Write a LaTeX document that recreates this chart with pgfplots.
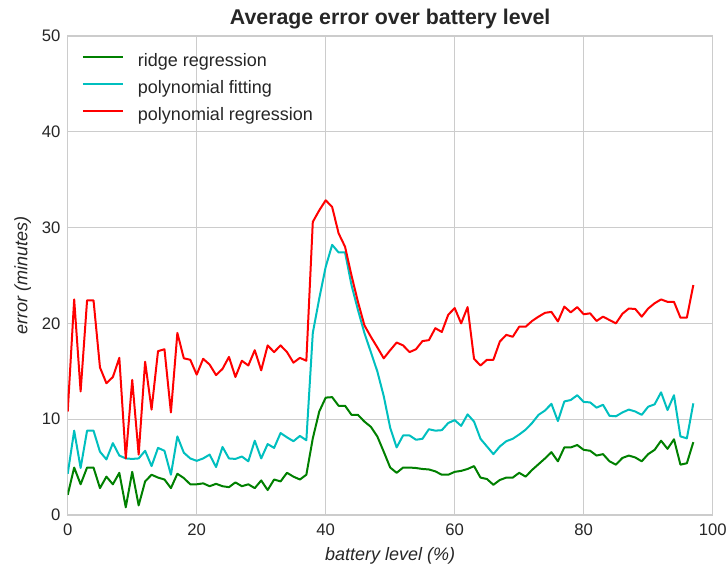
\documentclass[border=0pt]{standalone}
\usepackage{fontspec}
\setmainfont{Liberation Sans}
\usepackage{pgfplots}
\pgfplotsset{compat=1.18}
\definecolor{gridc}{HTML}{CCCCCC}
\definecolor{txt}{HTML}{262626}
\definecolor{cyanc}{HTML}{00BFBF}
\definecolor{greenc}{HTML}{008000}
\definecolor{redc}{HTML}{FF0000}

\pgfplotstableread{
x y
0 2.1
1 4.95
2 3.2
3 4.95
4 4.95
5 2.8
6 4.0
7 3.2
8 4.4
9 0.8
10 4.5
11 1.0
12 3.5
13 4.2
14 3.9
15 3.7
16 2.8
17 4.3
18 3.85
19 3.2
20 3.2
21 3.3
22 3.0
23 3.25
24 3.0
25 2.9
26 3.4
27 3.0
28 3.2
29 2.8
30 3.6
31 2.6
32 3.7
33 3.5
34 4.4
35 4.0
36 3.7
37 4.2
38 8.0
39 10.8
40 12.25
41 12.3
42 11.4
43 11.4
44 10.45
45 10.45
46 9.75
47 9.2
48 8.2
49 6.6
50 4.95
51 4.4
52 4.95
53 4.95
54 4.9
55 4.8
56 4.75
57 4.55
58 4.2
59 4.2
60 4.5
61 4.6
62 4.8
63 5.1
64 3.9
65 3.75
66 3.15
67 3.65
68 3.9
69 3.9
70 4.4
71 4.0
72 4.7
73 5.3
74 5.9
75 6.55
76 5.6
77 7.05
78 7.05
79 7.3
80 6.8
81 6.7
82 6.2
83 6.35
84 5.6
85 5.25
86 5.95
87 6.2
88 6.0
89 5.6
90 6.35
91 6.8
92 7.75
93 6.9
94 7.9
95 5.25
96 5.4
97 7.6
}\ridge

\pgfplotstableread{
x y
0 4.3
1 8.8
2 4.9
3 8.8
4 8.8
5 6.6
6 5.8
7 7.5
8 6.2
9 5.9
10 5.85
11 5.9
12 6.7
13 5.1
14 7.0
15 6.7
16 4.2
17 8.2
18 6.5
19 5.9
20 5.65
21 5.9
22 6.3
23 5.0
24 7.1
25 5.9
26 5.85
27 6.1
28 5.6
29 7.75
30 5.9
31 7.4
32 7.0
33 8.55
34 8.1
35 7.7
36 8.25
37 7.8
38 19.0
39 22.6
40 25.9
41 28.2
42 27.4
43 27.4
44 24.0
45 21.4
46 19.0
47 17.0
48 15.0
49 12.4
50 9.1
51 7.05
52 8.3
53 8.3
54 7.85
55 7.95
56 8.95
57 8.8
58 8.85
59 9.6
60 9.9
61 9.3
62 10.5
63 9.75
64 7.95
65 7.15
66 6.35
67 7.15
68 7.7
69 7.95
70 8.4
71 8.9
72 9.6
73 10.45
74 10.9
75 11.6
76 9.8
77 11.85
78 12.0
79 12.5
80 11.8
81 11.75
82 11.2
83 11.5
84 10.35
85 10.3
86 10.7
87 11.0
88 10.8
89 10.45
90 11.3
91 11.55
92 12.8
93 10.95
94 12.5
95 8.2
96 8.0
97 11.65
}\polyfit

\pgfplotstableread{
x y
0 10.8
1 22.5
2 12.9
3 22.4
4 22.4
5 15.4
6 13.75
7 14.4
8 16.4
9 5.9
10 14.1
11 6.3
12 16.0
13 11.0
14 17.1
15 17.3
16 10.7
17 19.0
18 16.35
19 16.2
20 14.65
21 16.3
22 15.7
23 14.6
24 15.25
25 16.5
26 14.4
27 16.1
28 15.6
29 17.2
30 15.1
31 17.7
32 17.0
33 17.7
34 17.0
35 15.9
36 16.4
37 16.1
38 30.6
39 31.8
40 32.85
41 32.15
42 29.4
43 28.0
44 25.0
45 22.25
46 19.8
47 18.6
48 17.5
49 16.35
50 17.2
51 18.0
52 17.7
53 17.0
54 17.3
55 18.15
56 18.25
57 19.5
58 19.1
59 20.9
60 21.6
61 20.0
62 21.7
63 16.3
64 15.6
65 16.2
66 16.2
67 18.1
68 18.8
69 18.6
70 19.65
71 19.65
72 20.25
73 20.7
74 21.1
75 21.2
76 20.2
77 21.75
78 21.15
79 21.7
80 20.95
81 21.05
82 20.25
83 20.7
84 20.35
85 20.0
86 21.0
87 21.55
88 21.5
89 20.7
90 21.55
91 22.1
92 22.5
93 22.25
94 22.25
95 20.6
96 20.6
97 24.0
}\polyreg

\begin{document}
\begin{tikzpicture}
\begin{axis}[
  scale only axis, width=483.75pt, height=359.25pt,
  xmin=0, xmax=100, ymin=0, ymax=50,
  xtick={0,20,...,100}, ytick={0,10,...,50},
  grid=major, major grid style={gridc, line width=0.8pt},
  axis line style={gridc, line width=1pt},
  major tick length=0pt,
  tick label style={font=\fontsize{12.5}{14}\selectfont, text=txt},
  /pgf/number format/assume math mode=true,
  xticklabel style={yshift=-3.5pt},
  yticklabel style={xshift=-2pt},
  xlabel={\itshape battery level (\%)},
  ylabel={\itshape error (minutes)},
  every axis x label/.style={at={(axis description cs:0.5,-0.0856)}, anchor=center, font=\fontsize{13.5}{15}\selectfont, text=txt},
  every axis y label/.style={at={(axis description cs:-0.0698,0.5)}, anchor=center, rotate=90, font=\fontsize{13.5}{15}\selectfont, text=txt},
  title={Average error over battery level},
  every axis title/.style={at={(axis description cs:0.5,1.036)}, anchor=center, font=\bfseries\fontsize{16}{19}\selectfont, text=txt},
  legend style={draw=none, fill=none, at={(axis description cs:0,1)}, anchor=north west,
    xshift=7.5pt, yshift=-10.75pt, font=\fontsize{13.5}{15}\selectfont, text=txt,
    row sep=7.25pt, column sep=10.5pt,
    nodes={inner sep=0pt, text height=10pt, text depth=3pt}},
  legend cell align=left,
  legend image code/.code={\draw[#1] (0pt,3.5pt) -- (30pt,3.5pt);},
  every axis plot/.append style={line width=1.5pt, line join=round},
]
\addplot[greenc] table[x=x,y=y] {\ridge};
\addlegendentry{ridge regression}
\addplot[cyanc] table[x=x,y=y] {\polyfit};
\addlegendentry{polynomial fitting}
\addplot[redc] table[x=x,y=y] {\polyreg};
\addlegendentry{polynomial regression}
\end{axis}
\pgfresetboundingbox
\path (-50.8pt,-39.75pt) rectangle (495.25pt,386.25pt);
\end{tikzpicture}
\end{document}
